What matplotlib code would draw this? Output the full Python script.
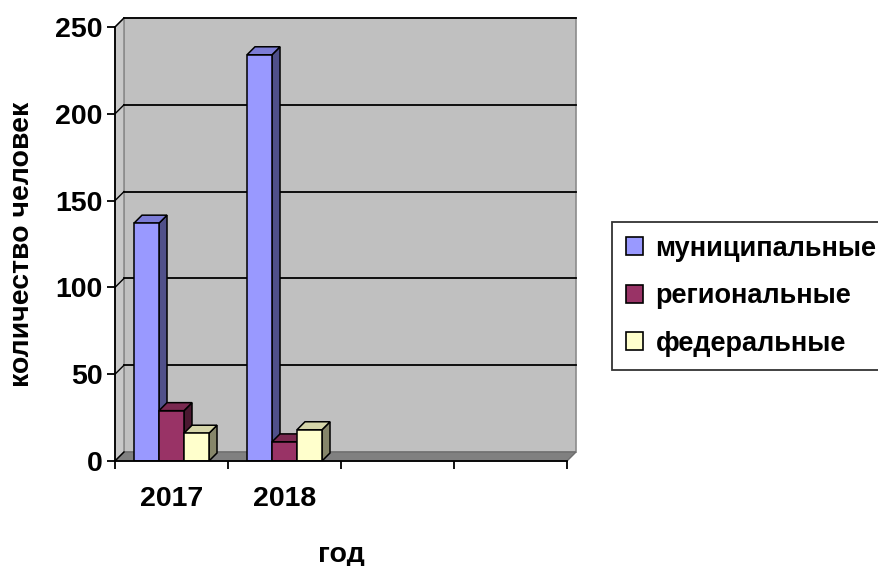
# участники по уровням: 2017-2018
import numpy as np
import matplotlib.pyplot as plt
from matplotlib.patches import Polygon, Patch

years = ['2017', '2018']
n_slots = 4  # empty category slots on the right, as in the original chart
series_names = ['муниципальные', 'региональные', 'федеральные']
municipal = [137, 234]
regional = [29, 11]
federal = [16, 18]

front_colors = ['#9999FF', '#993366', '#FFFFCC']
side_colors = ['#50508A', '#4A1830', '#86866A']
top_colors = ['#7C7CD6', '#7A2950', '#D6D6AA']

plt.rcParams['font.family'] = ['Liberation Sans', 'DejaVu Sans']
plt.rcParams['font.weight'] = 'bold'
fs = 20.5

fig = plt.figure(figsize=(8.79, 5.66), dpi=100)
ax = fig.add_axes([115 / 879, 1 - 461 / 566, 452 / 879, 434 / 566])
ax.set_xlim(0, n_slots)
ax.set_ylim(0, 250)

# depth of the walls and the bars, in data units
wdx, wdy = 9 / 113, 9 * 250 / 434
bdx, bdy = 8 / 113, 8 * 250 / 434

# back wall, side wall and floor
ax.add_patch(Polygon([(wdx, wdy), (n_slots + wdx, wdy), (n_slots + wdx, 250 + wdy), (wdx, 250 + wdy)],
                     closed=True, facecolor='#C0C0C0', edgecolor='#8C8C8C', lw=1.2, clip_on=False, zorder=0))
ax.add_patch(Polygon([(0, 0), (wdx, wdy), (wdx, 250 + wdy), (0, 250)],
                     closed=True, facecolor='#C8C8C8', edgecolor='#8C8C8C', lw=1.2, clip_on=False, zorder=0))
ax.add_patch(Polygon([(0, 0), (n_slots, 0), (n_slots + wdx, wdy), (wdx, wdy)],
                     closed=True, facecolor='#808080', edgecolor='#6E6E6E', lw=1, clip_on=False, zorder=0.5))

# gridlines on the back wall plus the short slant on the side wall
for v in range(50, 251, 50):
    ax.plot([wdx, n_slots + wdx], [v + wdy, v + wdy], color='black', lw=1.3, zorder=1, clip_on=False)
    ax.plot([0, wdx], [v, v + wdy], color='black', lw=1.0, zorder=1, clip_on=False)
ax.plot([0, wdx], [0, wdy], color='black', lw=1.0, zorder=1, clip_on=False)

# bars
width = 75 / 113 / 3
x = np.arange(len(years)) + 0.5
for k, vals in enumerate([municipal, regional, federal]):
    xs = x + (k - 1) * width
    ax.bar(xs, vals, width=width, color=front_colors[k], edgecolor='black', lw=1.1, zorder=3 + k)
    for xc, v in zip(xs, vals):
        x0, x1 = xc - width / 2, xc + width / 2
        ax.add_patch(Polygon([(x1, 0), (x1 + bdx, bdy), (x1 + bdx, v + bdy), (x1, v)], closed=True,
                             facecolor=side_colors[k], edgecolor='black', lw=1.1, zorder=2.5 + k))
        ax.add_patch(Polygon([(x0, v), (x1, v), (x1 + bdx, v + bdy), (x0 + bdx, v + bdy)], closed=True,
                             facecolor=top_colors[k], edgecolor='black', lw=1.1, zorder=2.5 + k))

# axes
for s in ['top', 'right']:
    ax.spines[s].set_visible(False)
for s in ['left', 'bottom']:
    ax.spines[s].set_linewidth(1.3)
    ax.spines[s].set_zorder(10)
ax.patch.set_visible(False)

ax.set_yticks(range(0, 251, 50))
ax.tick_params(axis='y', length=6, width=1.3, labelsize=fs, pad=3)
ax.set_xticks(x)
ax.set_xticklabels(years)
ax.set_xticks(range(n_slots + 1), minor=True)
ax.tick_params(axis='x', which='major', length=0, labelsize=fs, pad=18)
ax.tick_params(axis='x', which='minor', length=6, width=1.3)

ax.set_ylabel('количество человек', fontsize=fs, fontweight='bold', va='center')
ax.yaxis.set_label_coords(-0.205, 0.5)
ax.set_xlabel('год', fontsize=fs, fontweight='bold', va='center')
ax.xaxis.set_label_coords(0.5, -0.216)

handles = [Patch(facecolor=c, edgecolor='black', lw=1.2) for c in front_colors]
leg = fig.legend(handles, series_names, loc='upper left', bbox_to_anchor=(612 / 879, 1 - 222 / 566),
                 fontsize=19.5, frameon=True, fancybox=False, edgecolor='black', borderpad=0.5,
                 borderaxespad=0, handlelength=0.66, handleheight=0.66, handletextpad=0.45,
                 labelspacing=0.8)
leg.get_frame().set_linewidth(1.3)

fig.savefig('out.png', dpi=100, facecolor='white')
